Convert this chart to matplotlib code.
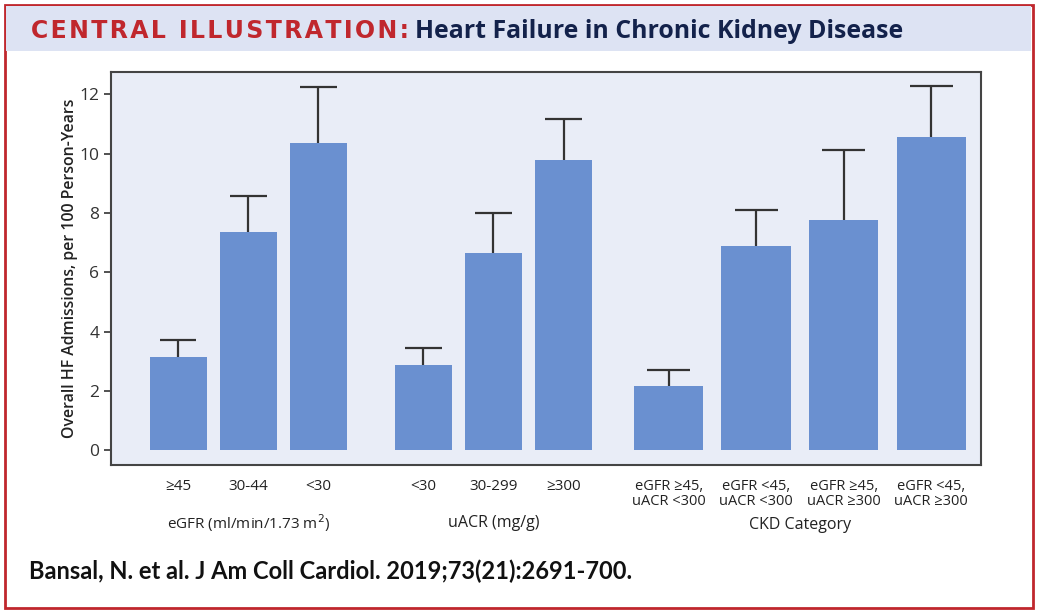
import matplotlib
matplotlib.use("Agg")
import matplotlib.pyplot as plt
from matplotlib.patches import Rectangle
import numpy as np

# values (rate and upper CI per 100 person-years)
egfr_labels = ['≥45', '30-44', '<30']
egfr_rate = [3.13, 7.37, 10.35]
egfr_upper = [3.72, 8.56, 12.23]

uacr_labels = ['<30', '30-299', '≥300']
uacr_rate = [2.87, 6.64, 9.77]
uacr_upper = [3.45, 8.01, 11.17]

ckd_labels = ['eGFR ≥45,\nuACR <300', 'eGFR <45,\nuACR <300',
              'eGFR ≥45,\nuACR ≥300', 'eGFR <45,\nuACR ≥300']
ckd_rate = [2.18, 6.88, 7.76, 10.55]
ckd_upper = [2.69, 8.11, 10.12, 12.29]

group_titles = ['eGFR (ml/min/1.73 m$^2$)', 'uACR (mg/g)', 'CKD Category']

bar_color = '#6a90d0'
err_color = '#333333'
bg_color = '#e9edf7'
red = '#c0272d'
navy = '#13224b'

plt.rcParams['font.family'] = ['Open Sans', 'DejaVu Sans']

fig = plt.figure(figsize=(10.39, 6.12), dpi=100)

# frame + header band
fig.patches.append(Rectangle((5 / 1039, 4 / 612), 1028 / 1039, 603 / 612,
                             transform=fig.transFigure, fill=False,
                             edgecolor=red, lw=2.0))
fig.patches.append(Rectangle((6 / 1039, 561 / 612), 1025 / 1039, 45 / 612,
                             transform=fig.transFigure, facecolor='#dde3f3',
                             edgecolor='none'))
spaced = '\u200a'.join('CENTRAL ILLUSTRATION:')
fig.text(31 / 1039, 1 - 31 / 612, spaced, color=red,
         fontsize=17, fontweight='bold', family='DejaVu Sans', va='center')
fig.text(415 / 1039, 1 - 31 / 612, 'Heart Failure in Chronic Kidney Disease',
         color=navy, fontsize=17.9, fontweight='bold', va='center')
fig.text(29 / 1039, 1 - 571 / 612,
         'Bansal, N. et al. J Am Coll Cardiol. 2019;73(21):2691-700.',
         color='#111111', fontsize=17, fontweight='bold',
         family='Lato', va='center')

ax = fig.add_axes([111 / 1039, 1 - 465 / 612, 870 / 1039, 393 / 612])
ax.set_facecolor(bg_color)

# (labels, rate, upper, first position, spacing, bar width, cap width)
groups = [
    (egfr_labels, egfr_rate, egfr_upper, 0.0, 1.0, 0.81, 0.52),
    (uacr_labels, uacr_rate, uacr_upper, 3.5, 1.0, 0.81, 0.52),
    (ckd_labels, ckd_rate, ckd_upper, 7.0, 1.25, 0.99, 0.61),
]

ticks, tick_labels = [], []
for i, (labels, rate, upper, start, step, width, cap) in enumerate(groups):
    x = start + step * np.arange(len(labels))
    ax.bar(x, rate, width=width, color=bar_color, zorder=2)
    # upper half of the CI only
    ax.vlines(x, rate, upper, color=err_color, lw=1.6, zorder=1)
    ax.hlines(upper, x - cap / 2, x + cap / 2, color=err_color, lw=1.6, zorder=1)
    ticks += list(x)
    tick_labels += labels
    ax.text(x.mean(), -0.148 if i < 2 else -0.153, group_titles[i],
            transform=ax.get_xaxis_transform(), ha='center', va='center',
            fontsize=11 if i == 0 else 11.5, color='#222222')

ax.set_xlim(-0.96, 11.46)
ax.set_ylim(-0.5, 12.75)
ax.set_yticks(range(0, 13, 2))
ax.set_xticks(ticks)
ax.set_xticklabels(tick_labels, fontsize=10.5, color='#222222', linespacing=1.05)
for lbl in ax.get_xticklabels()[:6]:
    lbl.set_fontsize(11)
ax.tick_params(axis='x', length=0, pad=10)
ax.tick_params(axis='y', length=5, width=1.2, colors='#333333', labelsize=12.5)
for s in ax.spines.values():
    s.set_color('#444444')
    s.set_linewidth(1.5)
ax.set_ylabel('Overall HF Admissions, per 100 Person-Years', fontsize=11.4,
              fontweight='semibold', color='#222222', labelpad=1)

fig.savefig('out.png', dpi=100, facecolor='white')
